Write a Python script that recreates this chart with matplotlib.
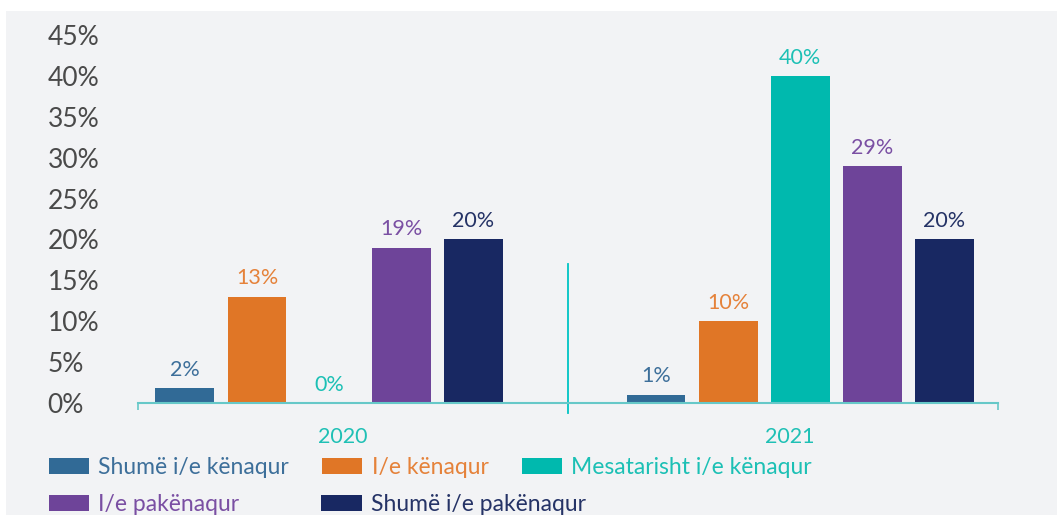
import matplotlib.pyplot as plt
from matplotlib.patches import Rectangle, Patch
import numpy as np

plt.rcParams['font.family'] = ['Lato', 'DejaVu Sans']

years = ["2020", "2021"]
series = ["Shumë i/e kënaqur", "I/e kënaqur", "Mesatarisht i/e kënaqur",
          "I/e pakënaqur", "Shumë i/e pakënaqur"]
values_2020 = [1.8, 13, 0, 19, 20]
values_2021 = [1, 10, 40, 29, 20]
colors = ["#316a96", "#e07626", "#00b9ae", "#6e4499", "#182862"]
text_colors = ["#3d6f9a", "#e5823a", "#1cc0b5", "#7a4fa3", "#253366"]
yticks = [0, 5, 10, 15, 20, 25, 30, 35, 40, 45]

fig = plt.figure(figsize=(10.57, 5.15), dpi=100, facecolor="white")
fig.patches.append(Rectangle((6 / 1057, 0), 1, 504 / 515, transform=fig.transFigure,
                             facecolor="#f2f3f5", edgecolor="none", zorder=-10))

ax = fig.add_axes([138 / 1057, 112 / 515, 860 / 1057, 368 / 515])
ax.set_facecolor("none")

x = np.arange(len(years))
step = 0.153
width = 0.125
data = np.array([values_2020, values_2021])
for i in range(len(series)):
    pos = x + (i - 2) * step
    bars = ax.bar(pos, data[:, i], width=width, color=colors[i], label=series[i])
    for b, v in zip(bars, data[:, i]):
        ax.annotate(f"{v:.0f}%", (b.get_x() + b.get_width() / 2, v),
                    xytext=(0, 6), textcoords="offset points",
                    ha="center", va="bottom", fontsize=15.5, color=text_colors[i])

ax.set_xlim(-0.4055, 1.42)
ax.set_ylim(0, 45)

ax.set_yticks(yticks)
ax.set_yticklabels([f"{t}%" for t in yticks])
ax.tick_params(axis="y", length=0, pad=65, labelsize=19, labelcolor="#4a4a4a")
for lab in ax.get_yticklabels():
    lab.set_horizontalalignment("left")

ax.set_xticks(x + np.array([0.03, -0.021]))
ax.set_xticklabels(years)
ax.tick_params(axis="x", which="major", length=0, pad=17, labelsize=15.5,
               labelcolor="#1fc0b5")
ax.set_xticks([-0.4055, 1.42], minor=True)
ax.tick_params(axis="x", which="minor", length=5, width=1.2, color="#66c8c8")

for s in ["left", "right", "top"]:
    ax.spines[s].set_visible(False)
ax.spines["bottom"].set_color("#66c8c8")
ax.spines["bottom"].set_linewidth(1.5)

# separator between the two years
ax.plot([0.507, 0.507], [-1.2, 17], color="#00c4c4", lw=1.3, clip_on=False)

handles = [Patch(facecolor=c) for c in colors]
leg_kw = dict(loc="upper left", frameon=False, fontsize=16.5, handlelength=1.75,
              handleheight=0.75, handletextpad=0.4, borderpad=0, borderaxespad=0)
fig.legend(handles[:3], series[:3], bbox_to_anchor=(49 / 1057, 1 - 457 / 515),
           ncol=3, columnspacing=1.45, labelcolor=text_colors[:3], **leg_kw)
fig.legend(handles[3:], series[3:], bbox_to_anchor=(49 / 1057, 1 - 494 / 515),
           ncol=2, columnspacing=3.58, labelcolor=text_colors[3:], **leg_kw)

fig.savefig("out.png", dpi=100, facecolor="white")
